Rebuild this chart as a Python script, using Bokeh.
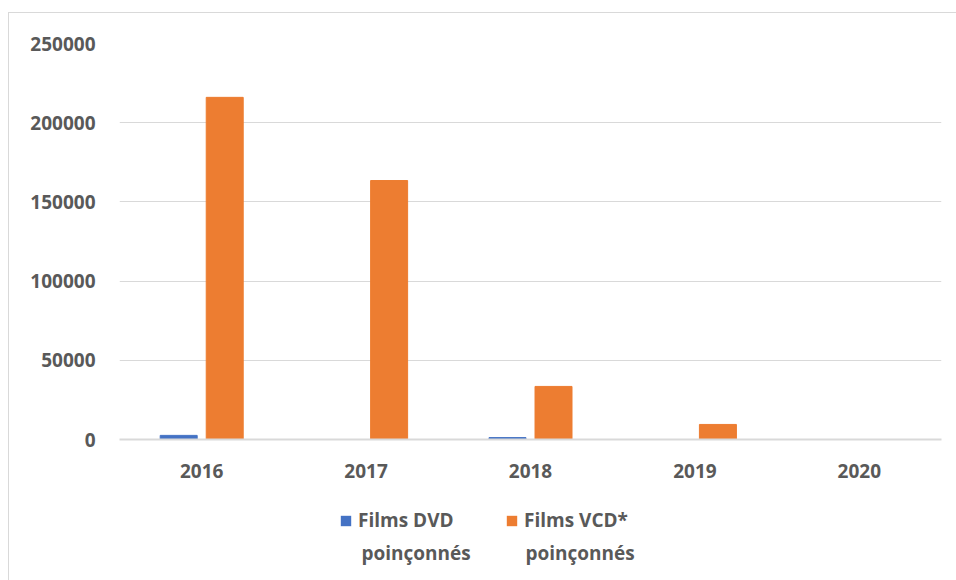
from bokeh.plotting import figure
from bokeh.layouts import column
from bokeh.models import (ColumnDataSource, Legend, LegendItem, FactorRange, Range1d,
                          FixedTicker, BasicTickFormatter, Label)
from bokeh.transform import dodge
from bokeh.embed import file_html
from bokeh.resources import INLINE

years = ["2016", "2017", "2018", "2019", "2020"]
dvd = [2600, 0, 1200, 0, 0]
vcd = [216000, 163500, 33500, 9500, 0]
y_ticks = [0, 50000, 100000, 150000, 200000, 250000]
series_names = ["Films DVD", "Films VCD*"]
series_colors = ["#4472C4", "#ED7D31"]
second_line = "poinçonnés"

FONT = "Open Sans"
GREY = "#595959"
FS = "19px"

src = ColumnDataSource(dict(years=years, dvd=dvd, vcd=vcd))

p = figure(x_range=FactorRange(*years, range_padding=0), y_range=Range1d(0, 250000),
           width=948, height=476, frame_width=822, frame_height=396,
           min_border_left=110, min_border_right=16, min_border_top=30, min_border_bottom=50,
           output_backend="svg", toolbar_location=None)

p.vbar(x=dodge("years", -0.14, range=p.x_range), top="dvd", width=0.225, source=src,
       fill_color=series_colors[0], line_color=series_colors[0])
p.vbar(x=dodge("years", 0.14, range=p.x_range), top="vcd", width=0.225, source=src,
       fill_color=series_colors[1], line_color=series_colors[1])

p.outline_line_color = None
p.xgrid.grid_line_color = None
p.ygrid.grid_line_color = "#d9d9d9"
p.ygrid.grid_line_width = 1
p.yaxis.ticker = FixedTicker(ticks=y_ticks)
p.yaxis.formatter = BasicTickFormatter(use_scientific=False)
p.yaxis.axis_line_color = None
p.yaxis.major_tick_line_color = None
p.yaxis.minor_tick_line_color = None
p.yaxis.major_label_standoff = 18
p.xaxis.axis_line_color = "#d9d9d9"
p.xaxis.axis_line_width = 2
p.xaxis.major_tick_line_color = None
p.xaxis.minor_tick_line_color = None
p.xaxis.major_label_standoff = 18
for ax in (p.xaxis, p.yaxis):
    ax.major_label_text_font = FONT
    ax.major_label_text_font_style = "bold"
    ax.major_label_text_font_size = FS
    ax.major_label_text_color = GREY

# legend strip below the chart
lf = figure(width=948, height=92, x_range=Range1d(0, 948), y_range=Range1d(0, 92),
            min_border=0, output_backend="svg", toolbar_location=None)
lf.axis.visible = False
lf.grid.visible = False
lf.outline_line_color = None

for name, color, gx, tx in [(series_names[0], series_colors[0], 220, 242),
                            (series_names[1], series_colors[1], 386, 406)]:
    # zero-area proxy renderer used only for the legend swatch
    proxy = lf.vbar(x=[0], bottom=[0], top=[0], width=0, fill_color=color, line_color=None)
    lg = Legend(items=[LegendItem(label=name, renderers=[proxy])],
                location=(gx, 48), orientation="horizontal",
                label_text_font=FONT, label_text_font_style="bold", label_text_font_size=FS,
                label_text_color=GREY, glyph_width=13, glyph_height=13, label_standoff=6,
                label_height=20, border_line_color=None, background_fill_alpha=0,
                padding=0, margin=0, spacing=0)
    lf.add_layout(lg, "center")
    lf.add_layout(Label(x=tx, y=29, x_units="screen", y_units="screen", text=second_line,
                        text_font=FONT, text_font_style="bold", text_font_size=FS,
                        text_color=GREY, text_baseline="middle"))

layout = column(p, lf, spacing=0)
layout.styles = {"border": "1px solid #d9d9d9", "margin-left": "8px", "margin-top": "12px"}

open("out.html", "w").write(file_html(layout, INLINE))
